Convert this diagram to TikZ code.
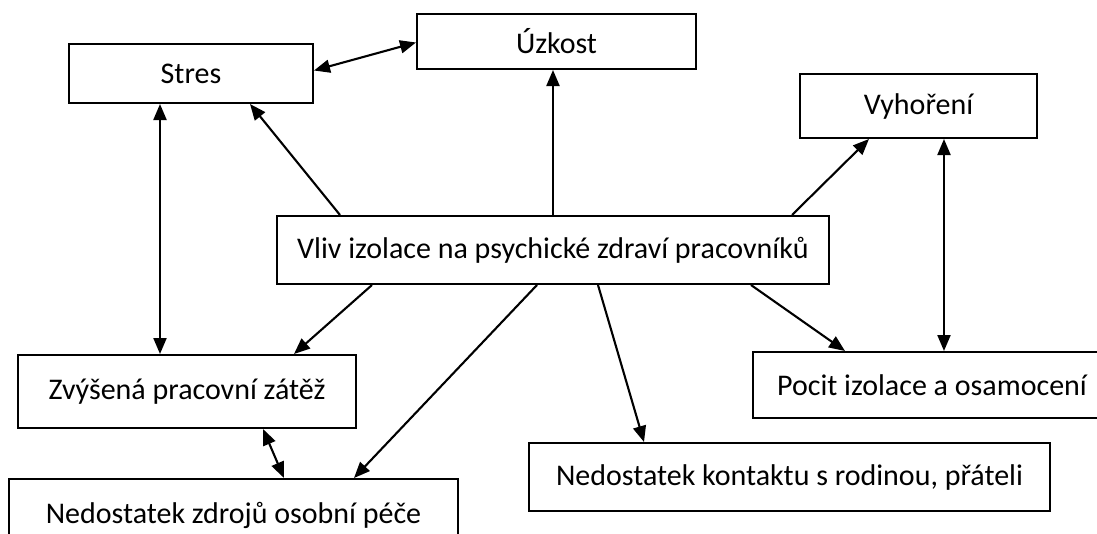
\documentclass[tikz,border=0pt]{standalone}
\usepackage{fontspec}
\setmainfont{Carlito}
\usetikzlibrary{arrows.meta,calc}
\begin{document}
\begin{tikzpicture}[x=1pt,y=-1pt,
  box/.style={draw, line width=2pt, rectangle, inner sep=0pt, fill=white,
    font=\fontsize{30}{35}\selectfont},
  arr/.style={line width=2.1pt, -{Triangle[length=16pt,width=13pt]}},
  darr/.style={line width=2.1pt, {Triangle[length=16pt,width=13pt]}-{Triangle[length=16pt,width=13pt]}}]
\useasboundingbox (0,0) rectangle (1097,533);
\fill[white] (0,0) rectangle (1097,533);
\begin{scope}
\clip (0,0) rectangle (1097,533);
\node[box, minimum width=244pt, minimum height=59pt] (stres) at (191,73.5) {Stres};
\node[box, minimum width=279pt, minimum height=55pt] (uzkost) at (556.5,41.5) {Úzkost};
\node[box, minimum width=237pt, minimum height=64pt] (vyh) at (918.5,106) {Vyhoření};
\node[box, minimum width=552pt, minimum height=68pt] (center) at (553,250) {Vliv izolace na psychické zdraví pracovníků};
\node[box, minimum width=338pt, minimum height=73pt] (zvys) at (187,391.5) {Zvýšená pracovní zátěž};
\node[box, minimum width=358pt, minimum height=66pt] (pocit) at (932,385) {Pocit izolace a osamocení};
\node[box, minimum width=521pt, minimum height=68pt] (kontakt) at (789.5,477) {Nedostatek kontaktu s rodinou, přáteli};
\node[box, minimum width=449pt, minimum height=72pt] (zdroje) at (233.5,515) {Nedostatek zdrojů osobní péče};
\end{scope}
% connectors
\draw[darr] ([yshift=3pt]stres.east) -- ([yshift=-1pt]uzkost.west);
\draw[arr] ([xshift=64pt]center.north west) -- ([xshift=59pt]stres.south);
\draw[arr] (center.north) -- (center.north |- uzkost.south);
\draw[arr] ([xshift=-38pt]center.north east) -- ([xshift=70pt]vyh.south west);
\draw[darr] ([xshift=25.5pt]vyh.south) -- ([xshift=25.5pt]vyh.south |- pocit.north);
\draw[darr] ([xshift=-31pt]stres.south) -- ([xshift=-31pt]stres.south |- zvys.north);
\draw[arr] ([xshift=96pt]center.south west) -- ([xshift=-63pt]zvys.north east);
\draw[arr] ([xshift=-16pt]center.south) -- ([xshift=-105pt]zdroje.north east);
\draw[darr] ([xshift=76pt]zvys.south) -- ([xshift=50.5pt]zdroje.north);
\draw[arr] ([xshift=45pt]center.south) -- ([xshift=116pt]kontakt.north west);
\draw[arr] ([xshift=-79pt]center.south east) -- ([xshift=93pt]pocit.north west);
\end{tikzpicture}
\end{document}
